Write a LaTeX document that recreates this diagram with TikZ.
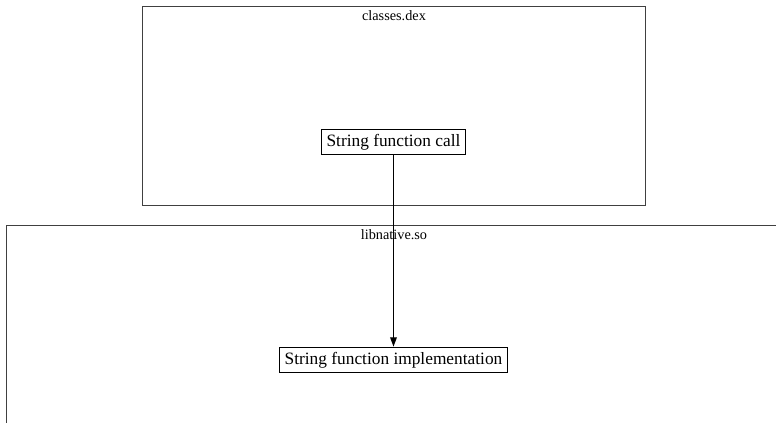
\documentclass[tikz,border=0pt]{standalone}
\usepackage{fontspec}
\setmainfont{Liberation Serif}
\usetikzlibrary{positioning,arrows.meta}

\tikzset{
  cluster/.style={draw=black!75,line width=0.5pt},
  clusterlabel/.style={font=\fontsize{10.7}{12}\selectfont,inner sep=0pt},
  fnbox/.style={draw,line width=0.9pt,font=\fontsize{13}{15}\selectfont,inner xsep=4pt,inner ysep=3.6pt}
}

\begin{document}
\begin{tikzpicture}[x=0.75pt,y=-0.75pt,>={Triangle[length=7pt,width=5pt]}]
\useasboundingbox (0,0) rectangle (776,423);
\clip (0,0) rectangle (776,423);
% dex cluster
\draw[cluster] (142,6) rectangle (645,205);
\node[clusterlabel] (dexlabel) at (394,16) {classes.dex};
\node[fnbox] (call) at (393.5,142) {String function call};
% native library cluster
\draw[cluster] (6,225) rectangle (790,440);
\node[clusterlabel] (solabel) at (394,235) {libnative.so};
\node[fnbox] (impl) at (393.5,360) {String function implementation};
\draw[->,line width=0.9pt] (call) -- (impl);
\end{tikzpicture}
\end{document}
